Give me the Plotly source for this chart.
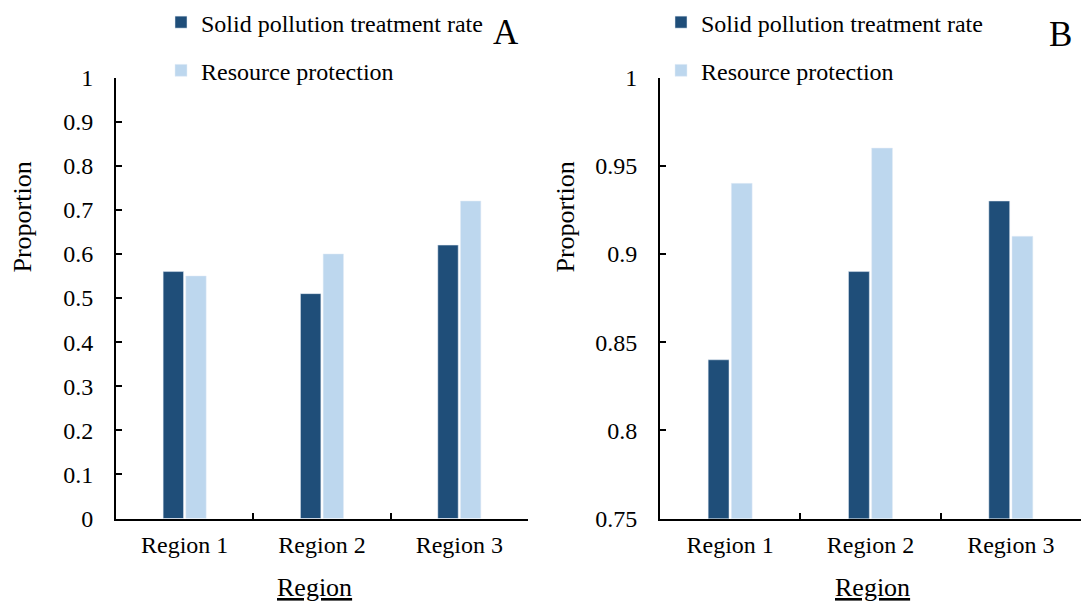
import plotly.graph_objects as go

regions = ["Region 1", "Region 2", "Region 3"]
series_names = ["Solid pollution treatment rate", "Resource protection"]
solid_A = [0.56, 0.51, 0.62]
resource_A = [0.55, 0.60, 0.72]
solid_B = [0.84, 0.89, 0.93]
resource_B = [0.94, 0.96, 0.91]
colors = ["#1F4E79", "#BDD7EE"]

W, H = 1083, 603
FONT = "Liberation Serif"

def px_x(p):
    return p / W

def px_y(p):
    return 1 - p / H

fig = go.Figure()

fig.add_trace(go.Bar(x=regions, y=solid_A, name=series_names[0], marker_color=colors[0],
                     xaxis="x", yaxis="y", legend="legend", legendgroup="a1"))
fig.add_trace(go.Bar(x=regions, y=resource_A, name=series_names[1], marker_color=colors[1],
                     xaxis="x", yaxis="y", legend="legend", legendgroup="a2"))
fig.add_trace(go.Bar(x=regions, y=solid_B, name=series_names[0], marker_color=colors[0],
                     xaxis="x2", yaxis="y2", legend="legend2", legendgroup="b1"))
fig.add_trace(go.Bar(x=regions, y=resource_B, name=series_names[1], marker_color=colors[1],
                     xaxis="x2", yaxis="y2", legend="legend2", legendgroup="b2"))

ydom = [px_y(518), px_y(74)]
axis_common = dict(showline=True, linecolor="black", linewidth=2, ticks="inside",
                   tickcolor="black", tickwidth=2, ticklen=6, showgrid=False,
                   zeroline=False, automargin=False,
                   tickfont=dict(family=FONT, size=24, color="black"))

fig.update_layout(
    width=W, height=H, autosize=False,
    margin=dict(l=0, r=0, t=0, b=0),
    paper_bgcolor="white", plot_bgcolor="white",
    font=dict(family=FONT, color="black"),
    barmode="group", bargap=0.67, bargroupgap=0.1,
    xaxis=dict(domain=[px_x(116), px_x(528)], anchor="y", type="category",
               tickson="boundaries", ticklabelstandoff=4, **axis_common),
    yaxis=dict(domain=ydom, anchor="x", range=[0, 1], dtick=0.1,
               ticklabelstandoff=16, **axis_common),
    xaxis2=dict(domain=[px_x(660), px_x(1081)], anchor="y2", type="category",
                tickson="boundaries", ticklabelstandoff=4, **axis_common),
    yaxis2=dict(domain=ydom, anchor="x2", range=[0.75, 1], dtick=0.05,
                ticklabelstandoff=16, **axis_common),
    legend=dict(x=px_x(161), y=px_y(-4), xanchor="left", yanchor="top",
                traceorder="grouped", tracegroupgap=14, bgcolor="rgba(0,0,0,0)",
                font=dict(family=FONT, size=24, color="black")),
    legend2=dict(x=px_x(661), y=px_y(-4), xanchor="left", yanchor="top",
                 traceorder="grouped", tracegroupgap=14, bgcolor="rgba(0,0,0,0)",
                 font=dict(family=FONT, size=24, color="black")),
)

annotations = [
    dict(text="A", x=px_x(506), y=px_y(29), font=dict(size=35)),
    dict(text="B", x=px_x(1060), y=px_y(31), font=dict(size=35)),
    dict(text="Proportion", x=px_x(23), y=px_y(215), textangle=-90, font=dict(size=26)),
    dict(text="Proportion", x=px_x(566), y=px_y(215), textangle=-90, font=dict(size=26)),
    dict(text="<u>Region</u>", x=px_x(314), y=px_y(587), font=dict(size=26)),
    dict(text="<u>Region</u>", x=px_x(872), y=px_y(587), font=dict(size=26)),
]
for a in annotations:
    a.update(xref="paper", yref="paper", showarrow=False, xanchor="center", yanchor="middle")
    a["font"].update(family=FONT, color="black")
fig.update_layout(annotations=annotations)

fig.write_html("out.html", config={"displayModeBar": False},
               post_script="document.body.style.margin='0';")
